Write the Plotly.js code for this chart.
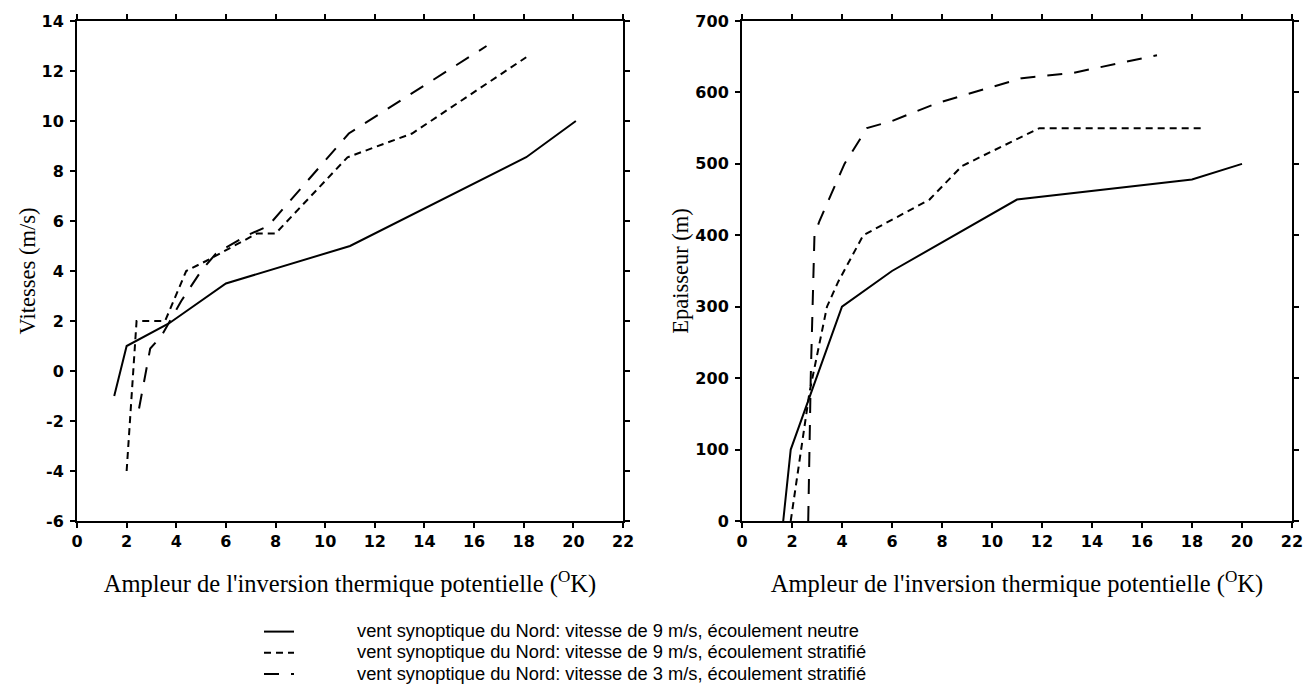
<!DOCTYPE html>
<html><head><meta charset="utf-8">
<script src="https://cdn.plot.ly/plotly-3.0.1.min.js"></script>
<style>body{margin:0;background:#fff}</style>
</head><body><div id="chart" style="width:1305px;height:695px"></div>
<script>
// Series names (legend)
const seriesNames = [
  "vent synoptique du Nord: vitesse de 9 m/s, écoulement neutre",
  "vent synoptique du Nord: vitesse de 9 m/s, écoulement stratifié",
  "vent synoptique du Nord: vitesse de 3 m/s, écoulement stratifié"
];
// Left panel: Vitesses (m/s) vs inversion amplitude (°K)
const leftNeutralX = [1.5, 2.0, 3.7, 6.0, 11.0, 18.1, 20.1];
const leftNeutralY = [-1.0, 1.0, 1.9, 3.5, 5.0, 8.55, 10.0];
const leftStrat9X = [2.0, 2.2, 2.4, 3.55, 4.4, 5.2, 6.5, 7.25, 8.0, 10.9, 13.5, 18.1];
const leftStrat9Y = [-4.0, -1.1, 2.0, 2.0, 4.0, 4.4, 5.1, 5.5, 5.5, 8.55, 9.5, 12.55];
const leftStrat3X = [2.5, 2.95, 3.4, 4.2, 5.0, 5.6, 6.8, 7.7, 10.95, 16.5];
const leftStrat3Y = [-1.5, 0.9, 1.4, 2.8, 4.0, 4.7, 5.4, 5.8, 9.5, 13.0];
// Right panel: Epaisseur (m) vs inversion amplitude (°K)
const rightNeutralX = [1.65, 1.95, 4.0, 6.0, 11.0, 18.0, 20.0];
const rightNeutralY = [0, 100, 300, 350, 450, 478, 500];
const rightStrat9X = [1.95, 2.7, 3.4, 3.85, 4.85, 7.5, 8.8, 11.9, 18.4];
const rightStrat9Y = [0, 180, 300, 335, 400, 450, 497, 550, 550];
const rightStrat3X = [2.65, 2.75, 2.9, 3.1, 3.6, 4.1, 5.0, 6.0, 7.8, 11.2, 13.2, 16.6];
const rightStrat3Y = [0, 200, 400, 420, 460, 500, 550, 560, 585, 620, 627, 652];
// Axis ticks
const xTicks = [0, 2, 4, 6, 8, 10, 12, 14, 16, 18, 20, 22];
const leftYTicks = [-6, -4, -2, 0, 2, 4, 6, 8, 10, 12, 14];
const rightYTicks = [0, 100, 200, 300, 400, 500, 600, 700];

const dashes = ['solid', '7px,5px', '15px,12px'];
function tr(x, y, i, right) {
  return {
    x: x, y: y, type: 'scatter', mode: 'lines',
    name: '\u00a0',
    xaxis: right ? 'x2' : 'x', yaxis: right ? 'y2' : 'y',
    showlegend: !right,
    line: {color: '#000', width: 2, dash: dashes[i]},
    hoverinfo: 'skip'
  };
}
const data = [
  tr(leftNeutralX, leftNeutralY, 0, false),
  tr(leftStrat9X, leftStrat9Y, 1, false),
  tr(leftStrat3X, leftStrat3Y, 2, false),
  tr(rightNeutralX, rightNeutralY, 0, true),
  tr(rightStrat9X, rightStrat9Y, 1, true),
  tr(rightStrat3X, rightStrat3Y, 2, true)
];
const tickFont = {family: 'DejaVu Sans', size: 16, weight: 'bold', color: '#000'};
const xTitleFont = {family: 'Liberation Serif', size: 24.5, color: '#000'};
const yTitleFont = {family: 'Liberation Serif', size: 22.5, color: '#000'};
const xTitle = "Ampleur de l'inversion thermique potentielle (<sup>O</sup>K)";
function xa(domain, anchor) {
  return {domain: domain, anchor: anchor, range: [0, 22], tickvals: xTicks, ticktext: xTicks.map(String),
    showline: true, linewidth: 2, linecolor: '#000', mirror: 'allticks', ticks: 'outside', ticklen: 5, tickwidth: 2,
    tickcolor: '#000', showgrid: false, zeroline: false, tickfont: tickFont,
    title: {text: xTitle, font: xTitleFont, standoff: 25}};
}
function ya(range, ticks, anchor, title, standoff) {
  return {anchor: anchor, range: range, tickvals: ticks, ticktext: ticks.map(String),
    showline: true, linewidth: 2, linecolor: '#000', mirror: 'allticks', ticks: 'outside', ticklen: 5, tickwidth: 2,
    tickcolor: '#000', showgrid: false, zeroline: false, tickfont: tickFont, ticklabelstandoff: 3,
    title: {text: title, font: yTitleFont, standoff: standoff}};
}
const legendTextY = [-0.218, -0.261, -0.304];
const annotations = seriesNames.map((t, i) => ({
  xref: 'paper', yref: 'paper', x: 0.229, y: legendTextY[i], xanchor: 'left', yanchor: 'middle',
  text: t, showarrow: false, font: {family: 'Liberation Sans', size: 18.3, color: '#000'}
}));
const layout = {
  width: 1305, height: 695,
  margin: {l: 77, r: 13, t: 21, b: 174, autoexpand: false},
  paper_bgcolor: '#fff', plot_bgcolor: '#fff',
  showlegend: true,
  legend: {x: 0.1498, y: -0.19, xanchor: 'left', yanchor: 'top', bgcolor: 'rgba(0,0,0,0)',
    font: {family: 'Liberation Sans', size: 14, color: '#000'}, tracegroupgap: 0},
  annotations: annotations,
  xaxis: xa([0, 0.4494], 'y'),
  yaxis: ya([-6, 14], leftYTicks, 'x', 'Vitesses (m/s)', 0),
  xaxis2: xa([0.5473, 1], 'y2'),
  yaxis2: ya([0, 700], rightYTicks, 'x2', 'Epaisseur (m)', 0)
};
Plotly.newPlot('chart', data, layout, {staticPlot: true, displayModeBar: false});
</script></body></html>
